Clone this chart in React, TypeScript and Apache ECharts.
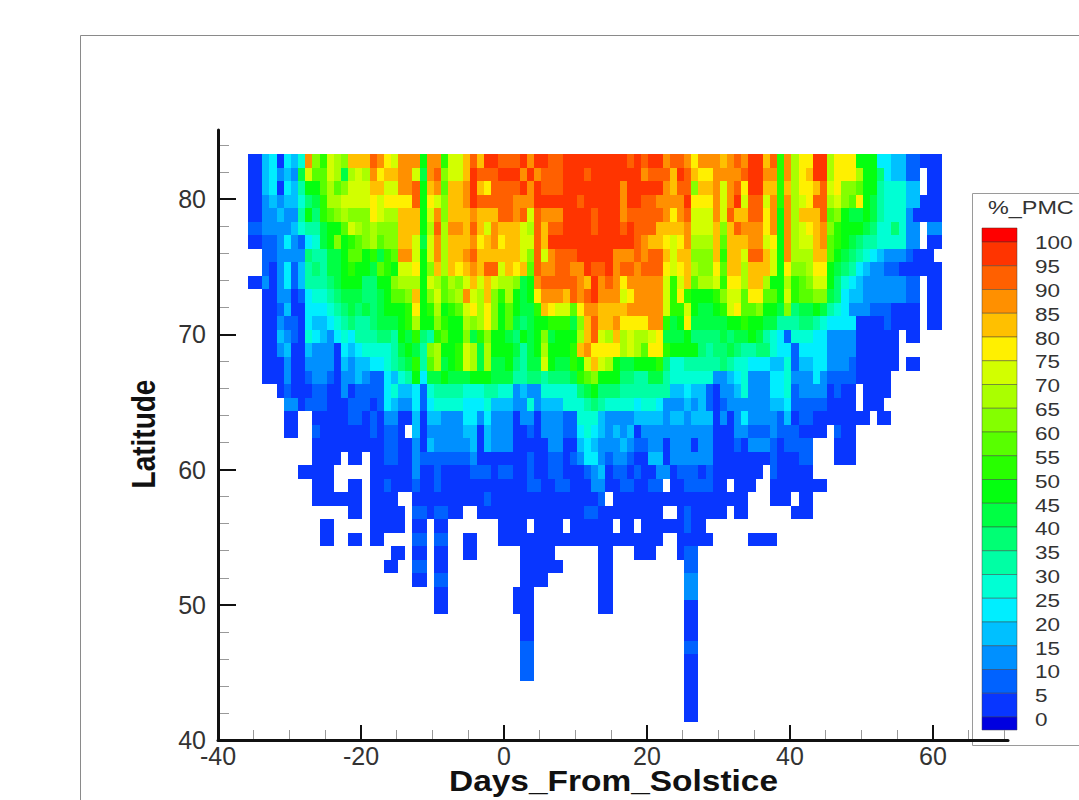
import React, { useEffect, useRef } from "react";
import * as echarts from "echarts";

// Each character is one day column of a latitude row; a = 0-5 %, b = 5-10 %, ... u = 100 %, "." = no data.
const LEVEL_CODES = "abcdefghijklmnopqrstu";
const firstDay = -36;
const topLatitude = 83;
const rows: string[] = [
  "aadeaedfrm konmqqqsrp orrrjrrkoo qsqttssstr ttsstttttt tttststtrs srprrrqrsr ttqskrnppt tnpppjjjee ddbbaaa",
  "aadecdciol loninonrpq qrroirsmoo qtssstttrt rssstttstt tttttrsssq tsqpprrrrs ttrrkrnpqt tnpppnjjhe ddbb.aa",
  "aadeaedgjj lnlmoooqqo orrsjqrlqq rtqpsssstr tssstttttt ttrtttttrq ssmqqrorsp ttqqkqnppq sopmmljjgf ffdd.aa",
  "aacdcddfhi knnoooopop pppsjpomqq rtsssssrrr ttttttsttt ttrttssrrr rtppprorto ssorkrnops snomlpjigf ffddaaa",
  "aaccdccgjh klmnmmmpon nqqqjormqq qrqqqssrso srrrttttst ttrsssssrp rsooorosqq ssprjrnqqq slmjiijigf ffcaaaa",
  "bbccccdfgg ijjlonmnmm mqqqjnsnrr qsqorqqqon sqssttttst ttstsssqqq qroooqmqsr rrprjrnopq rmkjjjihff hfcc.cc",
  "aabbcecbef ijmjklmnlm mqqoiornqq qrpqrpqqoo sqtttttttt ttttsrqqpo prnnnqlqqq rropjrnooq rlkjihggff ffcc.aa",
  "..bbcccchg giijlljkik lrrojornqq rsqqqqqqom sorssstttt trrrsrssqo qqmmmqkqqo ssqojrnnnq qljihgfedc ccbaaa.",
  "..bacebdgh giijkjjilk joopjmqnqp qrqssoqpql srrssrrtss trssrssspo pqnmmplqqn qqqojpmmnp pjihgedccb baaaaaa",
  "aacacebdgg ghijjjhhjj mnnnjonlnm oqoqonnmij rsssssrqtr srprrrrrok oqlnnokppn qqnjjnklmo ojhfedcccc ccbb.aa",
  "..aaccabef fghiiihhij llmqjmolmn ronqmknjij prrrqsrstr rroprrrrok pkjjjkmool pplljokllm miheddcccc ccbb.aa",
  "..aabdaaee efghihihij jjkpjknjkl opnpmjljii kqpoolprrq qqqrrrrrok kojiijkopl lmjjimhiij igfecccbbb aaaa.aa",
  "..aacbbaed defghgghii ijknjjmkjj nmnpmjlihi jjkkkimqsq qrpppprrki jpiiiiijjk jjiiggghhg feeeeaaaab aaaa.aa",
  "..aadcbafe dcefeggghh gjikhgkljj mikmjjihji jmijjjnqso nqnonnopii ijhhhhihii jigfebfffe eccccaaaaa a.aa...",
  "..aacdaadc ccaedeffff gijigmnjjk oninjjjigi jnjjjkqrpp ppnonlppkj jjjhghhihg ghhfeebeee eccccaaaaa a......",
  "..aaacaacc ccadcddeef ghikglnijk oniniijhgi iojiikjoqo njiijjjkhf fggggghgff eeeddfbdde ecccbaaaaa a.aa...",
  "..aaacaabc cbaccdcbbe dfgjeiijii ijjjiiiggh hghhhiklmj jjhhggiigf fffffccdef ccceefccce cbbbbaaaaa .......",
  "....abaaab baacabbbbe fddebfgggg fffggffcdc cfffffhijh hhgggggggd deddbaccdf ccceefbccc cabaa.aaaa .......",
  ".....ccabb baaabbbabe dccebeffff eeefdddccf cdddfffghg ffffeffecc cdcdbabccc cccddebbbb baaaa.aaa. .......",
  ".....aa..a aaaabbabac caadaddccc eececccacc acccbbfffd ccccddddcd dcdddacace ccccbdabba aaaaaaa.aa .......",
  ".....aa..b aaaaaaabab ba.daccccc ddadcccaab acccbbefed cdcdaccccc cccccaaacc bbbcbbbaaa a.baa..... .......",
  ".........a aaaaaaaaab baacadcccc cdadcccaaa aaccaadedc ccdcbbccac ccaccaaaba cccbabbbb. ..aaa..... .......",
  ".........a aaa.aa.aab baacbbbbbb bcaaaaaaab aabbabceec bccbaaddac cccccaaaaa aaabaaabb. ..aaa..... .......",
  ".......aaa aa.....aaa aaacaabaaa abbbabbaab aabbaaabcd abbabaacca bbbabaaaaa aa.baaaaa. .......... .......",
  ".........a aa..aa.aab aaabaabaaa aaaaaaaaab baabbaaacc aabbaabb.a abbbbaa.aa a..aaaaaaa a......... .......",
  ".........a aaaaaa.aaa a..aaaaaaa aaabaaaaaa aaaaaaaaab .aaaaaaaaa aaaaaaaaaa ...aaa.aa. .......... .......",
  ".......... ....aa.aaa aa.bbabbaa ..aaaaaaaa aaaaaaabba aaaaaaaa.. abaaaaa.aa ......aaa. .......... .......",
  ".......... aa.....aaa aa.aa.aa.. .....aaaa. aaaa.aaaaa a.aa.aaaaa abaa...... .......... .......... .......",
  ".......... aa..aa.aa. ...bb.bb.. aa...aaaaa aaaaaaaaaa aaaaaaaa.. aaaaa..... aaaa...... .......... .......",
  ".......... .......... aa.aa.aa.. aa......aa aaa......a a...aaa... abb....... .......... .......... .......",
  ".......... .........a a..bb.aa.. ........aa aaaa.....a a......... .bb....... .......... .......... .......",
  ".......... .......... ...aa.bb.. ........aa aa.......a a......... .cc....... .......... .......... .......",
  ".......... .......... ......aa.. .......aaa .........a a......... .cc....... .......... .......... .......",
  ".......... .......... ......aa.. .......aaa .........a a......... .aa....... .......... .......... .......",
  ".......... .......... .......... ........aa .......... .......... .aa....... .......... .......... .......",
  ".......... .......... .......... ........aa .......... .......... .aa....... .......... .......... .......",
  ".......... .......... .......... ........bb .......... .......... .bb....... .......... .......... .......",
  ".......... .......... .......... ........bb .......... .......... .aa....... .......... .......... .......",
  ".......... .......... .......... ........bb .......... .......... .aa....... .......... .......... .......",
  ".......... .......... .......... .......... .......... .......... .aa....... .......... .......... .......",
  ".......... .......... .......... .......... .......... .......... .aa....... .......... .......... .......",
  ".......... .......... .......... .......... .......... .......... .aa....... .......... .......... .......",
];

// Colours of the 5 % bins, from 0-5 % up to 100 %.
const binColors = [
  "#0836ff", "#0062ff", "#0090ff", "#00c0ff", "#00eeff", "#00ffd4", "#00ffa4",
  "#00ff74", "#00ff44", "#04ff10", "#28ff00", "#58ff00", "#84ff00", "#aaff00",
  "#d2ff00", "#fff000", "#ffc000", "#ff9000", "#ff6000", "#ff3400", "#ff0000",
];
const legendBelowZero = "#0000e0";
const legendLabels = ["100", "95", "90", "85", "80", "75", "70", "65", "60", "55", "50", "45", "40", "35", "30", "25", "20", "15", "10", "5", "0"];

const xMajorTicks = [-40, -20, 0, 20, 40, 60];
const xMinorTicks = [-35, -30, -25, -15, -10, -5, 5, 10, 15, 25, 30, 35, 45, 50, 55, 65, 70];
const yMajorTicks = [40, 50, 60, 70, 80];
const yMinorTicks = [42, 44, 46, 48, 52, 54, 56, 58, 62, 64, 66, 68, 72, 74, 76, 78, 82, 84];

const TICK_FONT = "Liberation Sans";

const cells: number[][] = [];
rows.forEach((row, r) => {
  row.replace(/ /g, "").split("").forEach((code, c) => {
    const level = LEVEL_CODES.indexOf(code);
    if (level >= 0) cells.push([firstDay + c, topLatitude - r, level * 5 + 2.5]);
  });
});

function buildLegend(): any[] {
  const out: any[] = [];
  const top = 242;
  const step = 23.75;
  const left = 982;
  const width = 35;
  out.push({ type: "rect", z: 1, shape: { x: 972.5, y: 193.5, width: 130, height: 552 }, style: { fill: "#fff", stroke: "#9a9a9a", lineWidth: 1 } });
  out.push({ type: "text", z: 2, x: 988, y: 208, scaleX: 1.3, style: { text: "%_PMC", font: "18px 'Liberation Sans'", fill: "#333", textAlign: "left", textVerticalAlign: "middle" } });
  out.push({ type: "rect", z: 2, shape: { x: left, y: 228, width, height: 14 }, style: { fill: binColors[20], stroke: "rgba(90,40,20,0.5)", lineWidth: 1 } });
  for (let i = 0; i < 20; i++) {
    out.push({ type: "rect", z: 2, shape: { x: left, y: top + i * step, width, height: step }, style: { fill: binColors[19 - i], stroke: "rgba(60,60,60,0.45)", lineWidth: 1 } });
  }
  out.push({ type: "rect", z: 2, shape: { x: left, y: top + 20 * step, width, height: 13 }, style: { fill: legendBelowZero, stroke: "rgba(60,60,90,0.5)", lineWidth: 1 } });
  legendLabels.forEach((label, i) => {
    out.push({ type: "text", z: 2, x: 1035, y: 243 + i * 23.85, scaleX: 1.25, style: { text: label, font: "18px 'Liberation Sans'", fill: "#333", textAlign: "left", textVerticalAlign: "middle" } });
  });
  return out;
}

export default function App() {
  const ref = useRef<HTMLDivElement>(null);
  useEffect(() => {
    const chart = echarts.init(ref.current!, undefined, { renderer: "svg" });
    const grid = { left: 218, top: 130, width: 790, height: 610 };
    const axisLine = { show: true, onZero: false, lineStyle: { color: "#111", width: 3 } };
    const hiddenLine = { show: false, onZero: false };
    chart.setOption({
      animation: false,
      backgroundColor: "#fff",
      grid,
      xAxis: [
        {
          type: "value", min: -40, max: 70.5, interval: 20, position: "bottom", z: 6,
          splitLine: { show: false }, axisLine,
          axisTick: { show: true, inside: true, length: 15, customValues: xMajorTicks, lineStyle: { color: "#111", width: 2 } },
          axisLabel: { show: true, customValues: xMajorTicks, margin: 3, fontFamily: TICK_FONT, fontSize: 25, color: "#333" },
        },
        {
          type: "value", min: -40, max: 70.5, interval: 5, position: "bottom", z: 5,
          splitLine: { show: false }, axisLine: hiddenLine, axisLabel: { show: false },
          axisTick: { show: true, inside: true, length: 10, customValues: xMinorTicks, lineStyle: { color: "#999", width: 1 } },
        },
      ],
      yAxis: [
        {
          type: "value", min: 40, max: 85.12, interval: 10, position: "left", z: 6,
          splitLine: { show: false }, axisLine,
          axisTick: { show: true, inside: true, length: 18, customValues: yMajorTicks, lineStyle: { color: "#111", width: 2 } },
          axisLabel: { show: true, customValues: yMajorTicks, margin: 12, fontFamily: TICK_FONT, fontSize: 25, color: "#333" },
        },
        {
          type: "value", min: 40, max: 85.12, interval: 2, position: "left", z: 5,
          splitLine: { show: false }, axisLine: hiddenLine, axisLabel: { show: false },
          axisTick: { show: true, inside: true, length: 11, customValues: yMinorTicks, lineStyle: { color: "#999", width: 1 } },
        },
      ],
      series: [
        {
          type: "custom",
          xAxisIndex: 0,
          yAxisIndex: 0,
          silent: true,
          clip: false,
          z: 2,
          encode: { x: 0, y: 1 },
          data: cells,
          renderItem: (_params: any, api: any) => {
            const day = api.value(0);
            const lat = api.value(1);
            const bin = Math.floor(api.value(2) / 5);
            const a = api.coord([day + 0.2, lat + 0.33]);
            const b = api.coord([day + 1.2, lat - 0.67]);
            const x0 = Math.round(a[0]);
            const y0 = Math.round(a[1]);
            return {
              type: "rect",
              shape: { x: x0, y: y0, width: Math.round(b[0]) - x0, height: Math.round(b[1]) - y0 },
              style: { fill: binColors[bin] },
            };
          },
        },
      ],
      graphic: [
        { type: "line", z: 0, shape: { x1: 80.5, y1: 35.5, x2: 1079, y2: 35.5 }, style: { stroke: "#8a8a8a", lineWidth: 1 } },
        { type: "line", z: 0, shape: { x1: 80.5, y1: 35.5, x2: 80.5, y2: 800 }, style: { stroke: "#8a8a8a", lineWidth: 1 } },
        ...buildLegend(),
        { type: "text", z: 3, x: 613.5, y: 781, scaleX: 1.115, style: { text: "Days_From_Solstice", font: "bold 30px 'Liberation Sans'", fill: "#111", textAlign: "center", textVerticalAlign: "middle" } },
        { type: "text", z: 3, x: 144, y: 434, rotation: Math.PI / 2, scaleY: 1.2, style: { text: "Latitude", font: "bold 28px 'Liberation Sans'", fill: "#111", textAlign: "center", textVerticalAlign: "middle" } },
      ],
    });
    return () => chart.dispose();
  }, []);
  return <div ref={ref} style={{ position: "absolute", left: 0, top: 0, width: 1079, height: 800 }} />;
}
